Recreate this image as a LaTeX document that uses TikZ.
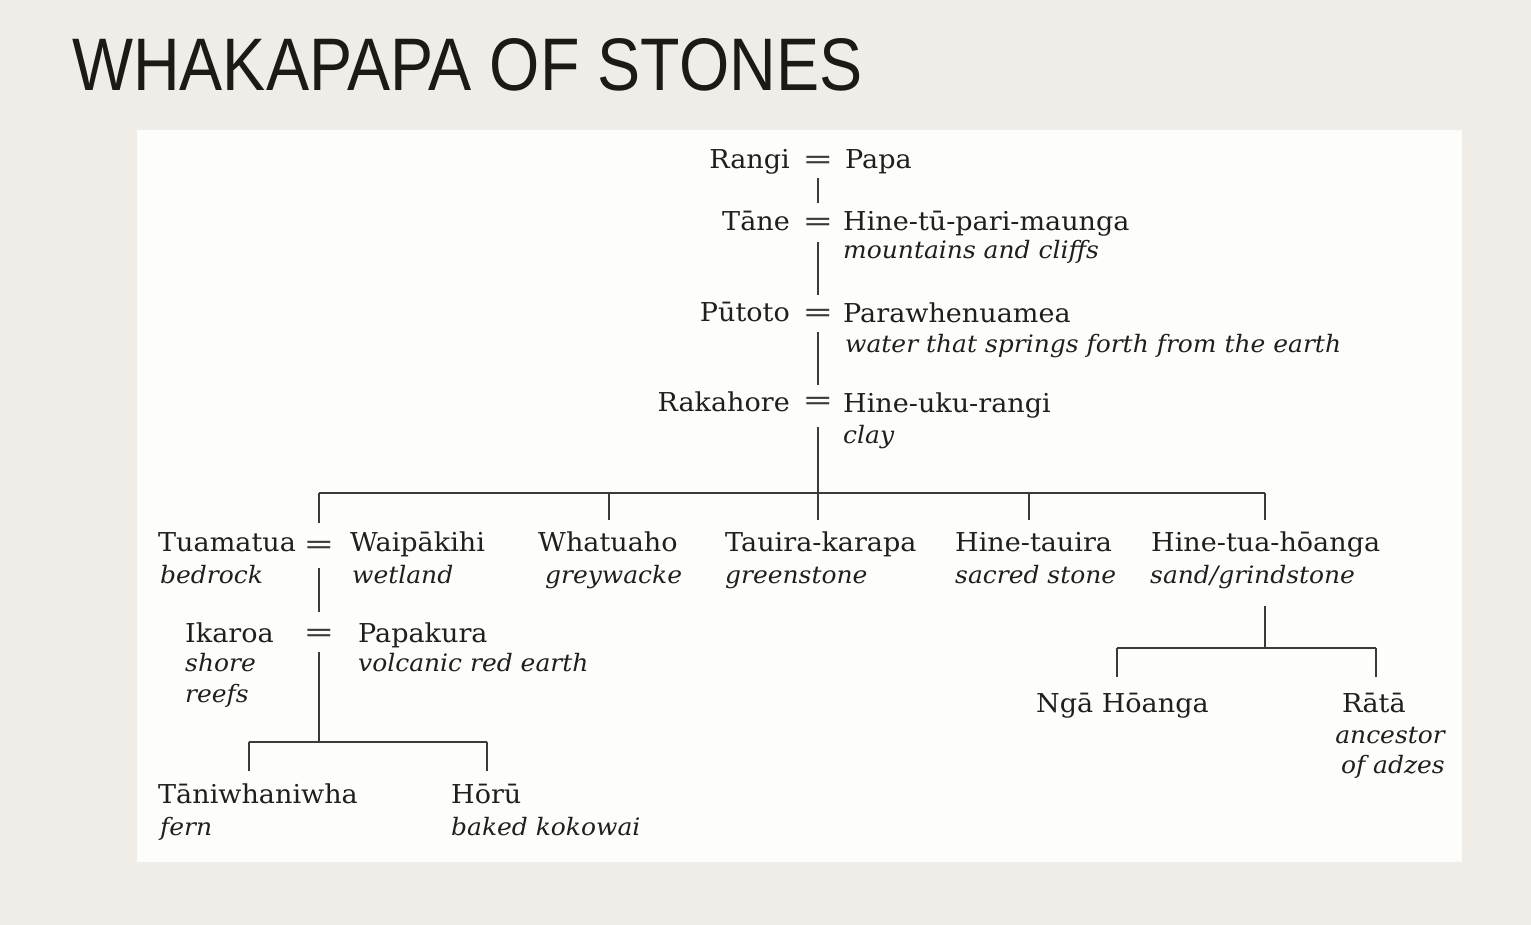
\documentclass[tikz,border=0pt]{standalone}
\usepackage{fontspec}
\setmainfont{DejaVu Serif}[FakeStretch=1.04]
\newfontfamily\titlefont{Liberation Sans}
\definecolor{pagebg}{HTML}{F0EDE8}
\definecolor{panel}{HTML}{FDFDFB}
\definecolor{ink}{HTML}{1F1F1F}
\definecolor{titleink}{HTML}{1C1A14}
\definecolor{rule}{HTML}{3A3A3A}
\newcommand{\wideeq}{\scalebox{1.3}[1]{=}}
\begin{document}
\begin{tikzpicture}[x=1pt,y=-1pt,
  nm/.style={font=\fontsize{26}{30}\selectfont, text=ink, inner sep=0pt},
  gl/.style={font=\fontsize{24}{28}\selectfont\itshape, text=ink, inner sep=0pt},
  eqsign/.style={font=\fontsize{27}{30}\selectfont, text=rule, inner sep=0pt},
  ln/.style={draw=rule, line width=2pt}]
% page and panel
\useasboundingbox (0,0) rectangle (1531,924);
\fill[pagebg] (-4,-4) rectangle (1535,928);
\fill[panel] (137,130) rectangle (1462,862);
% heading
\node[anchor=base west, inner sep=0pt, text=titleink] (title) at (72,90)
  {\resizebox{790pt}{52pt}{\titlefont\fontsize{71}{71}\selectfont WHAKAPAPA OF STONES}};

% ---- main line of descent ----
\node[nm, anchor=base east] (rangi) at (790,168) {Rangi};
\node[eqsign] (e1) at (818,162) {\wideeq};
\node[nm, anchor=base west] (papa) at (845,168) {Papa};

\node[nm, anchor=base east] (tane) at (790,230) {Tāne};
\node[eqsign] (e2) at (818,224) {\wideeq};
\node[nm, anchor=base west] (hinetu) at (843,230) {Hine-tū-pari-maunga};
\node[gl, anchor=base west] (hinetuG) at (843,258) {mountains and cliffs};

\node[nm, anchor=base east] (putoto) at (790,321) {Pūtoto};
\node[eqsign] (e3) at (818,315) {\wideeq};
\node[nm, anchor=base west] (para) at (843,322) {Parawhenuamea};
\node[gl, anchor=base west] (paraG) at (845,352) {water that springs forth from the earth};

\node[nm, anchor=base east] (raka) at (790,411) {Rakahore};
\node[eqsign] (e4) at (818,403) {\wideeq};
\node[nm, anchor=base west] (hineuku) at (843,412) {Hine-uku-rangi};
\node[gl, anchor=base west] (hineukuG) at (843,443) {clay};

\draw[ln] ([yshift=-16pt]e1.center) -- ([yshift=21pt]e2.center);
\draw[ln] ([yshift=-18pt]e2.center) -- ([yshift=20pt]e3.center);
\draw[ln] ([yshift=-17pt]e3.center) -- ([yshift=18pt]e4.center);

% ---- children of Rakahore ----
\node[nm, anchor=base west] (tuam) at (158,551) {Tuamatua};
\node[gl, anchor=base west] (tuamG) at (160,583) {bedrock};
\node[eqsign] (e5) at (319,547) {\wideeq};
\node[nm, anchor=base west] (waip) at (350,551) {Waipākihi};
\node[gl, anchor=base west] (waipG) at (352,583) {wetland};
\node[nm, anchor=base west] (whatu) at (538,551) {Whatuaho};
\node[gl, anchor=base west] (whatuG) at (545,583) {greywacke};
\node[nm, anchor=base west] (tauira) at (725,551) {Tauira-karapa};
\node[gl, anchor=base west] (tauiraG) at (725,583) {greenstone};
\node[nm, anchor=base west] (hinetau) at (955,551) {Hine-tauira};
\node[gl, anchor=base west] (hinetauG) at (955,583) {sacred stone};
\node[nm, anchor=base west] (hinehoa) at (1151,551) {Hine-tua-hōanga};
\node[gl, anchor=base west] (hinehoaG) at (1150,583) {sand/grindstone};

\coordinate (busA) at (319,493);
\coordinate (busB) at (609,493);
\coordinate (busC) at (818,493);
\coordinate (busD) at (1029,493);
\coordinate (busE) at (1265,493);
\draw[ln] ([yshift=-24pt]e4.center) -- (busC);
\draw[ln] (busA) -- (busE);
\draw[ln] (busA) -- ([yshift=24pt]e5.center);
\foreach \b in {busB,busC,busD,busE} \draw[ln] (\b) -- ++(0,27);

% ---- Tuamatua = Waipākihi ----
\node[nm, anchor=base west] (ikaroa) at (185,642) {Ikaroa};
\node[gl, anchor=base west] (ikaroaG1) at (185,671) {shore};
\node[gl, anchor=base west] (ikaroaG2) at (185,702) {reefs};
\node[eqsign] (e6) at (319,635) {\wideeq};
\node[nm, anchor=base west] (papak) at (358,642) {Papakura};
\node[gl, anchor=base west] (papakG) at (358,671) {volcanic red earth};
\draw[ln] ([yshift=-21pt]e5.center) -- ([yshift=23pt]e6.center);

% ---- Ikaroa = Papakura ----
\node[nm, anchor=base west] (tani) at (158,803) {Tāniwhaniwha};
\node[gl, anchor=base west] (taniG) at (160,835) {fern};
\node[nm, anchor=base west] (horu) at (451,803) {Hōrū};
\node[gl, anchor=base west] (horuG) at (451,835) {baked kokowai};
\coordinate (busF) at (319,742);
\coordinate (busFL) at (249,742);
\coordinate (busFR) at (487,742);
\draw[ln] ([yshift=-17pt]e6.center) -- (busF);
\draw[ln] (busFL) -- (busFR);
\foreach \b in {busFL,busFR} \draw[ln] (\b) -- ++(0,29);

% ---- Hine-tua-hōanga ----
\node[nm, anchor=base west] (nga) at (1036,712) {Ngā Hōanga};
\node[nm, anchor=base west] (rata) at (1342,712) {Rātā};
\node[gl, anchor=base east] (rataG1) at (1445,743) {ancestor};
\node[gl, anchor=base east] (rataG2) at (1445,773) {of adzes};
\coordinate (busG) at (1265,648);
\coordinate (busGL) at (1117,648);
\coordinate (busGR) at (1376,648);
\draw[ln] (busE |- hinehoaG.south) ++(0,17) -- (busG);
\draw[ln] (busGL) -- (busGR);
\foreach \b in {busGL,busGR} \draw[ln] (\b) -- ++(0,29);
\end{tikzpicture}
\end{document}
